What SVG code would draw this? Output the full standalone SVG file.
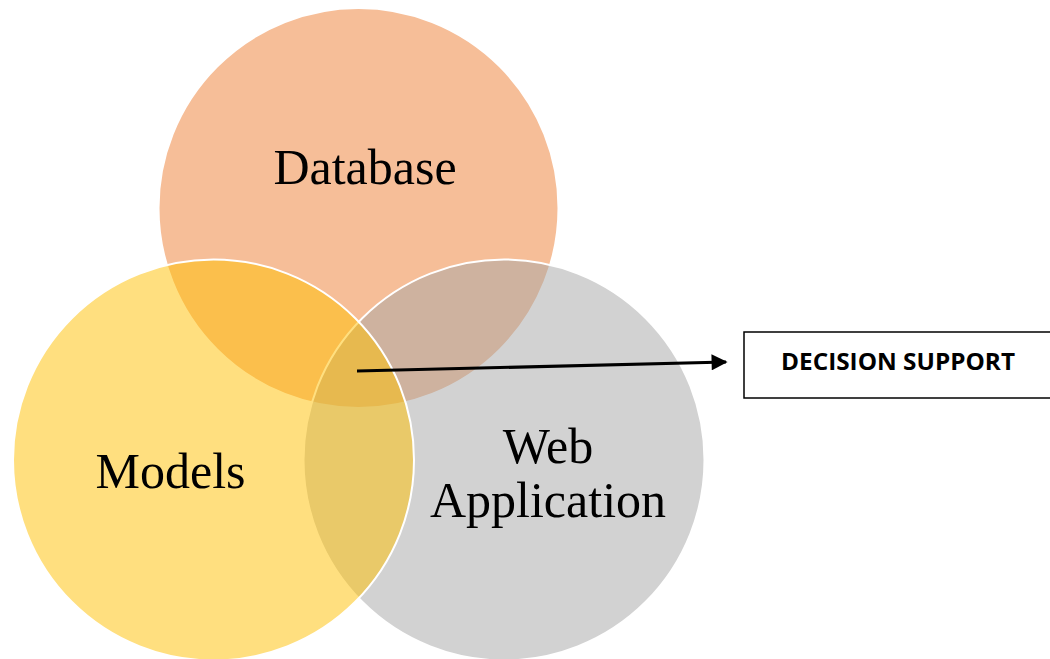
<svg xmlns="http://www.w3.org/2000/svg" width="1050" height="659" viewBox="0 0 1050 659">
  <style>
    .set { fill-opacity: 0.5; stroke: #FFFFFF; stroke-width: 2; }
    .set-label { font-family: "Liberation Serif", "Times New Roman", serif; font-size: 50px; fill: #000000; text-anchor: middle; }
    .box { fill: #FFFFFF; stroke: #000000; stroke-width: 1.5; }
    .box-label { font-family: "Open Sans", "Liberation Sans", sans-serif; font-weight: bold; font-size: 23px; fill: #000000; }
    .link { stroke: #000000; stroke-width: 3.2; fill: none; }
  </style>
  <defs>
    <marker id="arrow" viewBox="0 0 10 10" refX="9" refY="5" markerWidth="5.5" markerHeight="5" orient="auto" markerUnits="strokeWidth">
      <path d="M0,0 L10,5 L0,10 Z" fill="#000000"/>
    </marker>
  </defs>
  <rect width="1050" height="659" fill="#FFFFFF"/>

  <!-- Venn sets, drawn back to front -->
  <g id="database">
    <circle class="set" cx="358.5" cy="208" r="200" fill="#ED7D31"/>
    <text class="set-label" x="365" y="184">Database</text>
  </g>
  <g id="web-application">
    <circle class="set" cx="504" cy="460" r="200.5" fill="#A5A5A5"/>
    <text class="set-label" x="548" y="463">Web</text>
    <text class="set-label" x="548" y="517">Application</text>
  </g>
  <g id="models">
    <circle class="set" cx="213.5" cy="460" r="200.5" fill="#FFC000"/>
    <text class="set-label" x="170.5" y="488">Models</text>
  </g>

  <g id="decision-support">
    <rect class="box" x="744" y="332" width="320" height="66"/>
    <text class="box-label" x="781" y="369.5" textLength="234" lengthAdjust="spacingAndGlyphs">DECISION SUPPORT</text>
  </g>

  <g id="connectors">
    <line class="link" x1="357" y1="371" x2="726" y2="362" marker-end="url(#arrow)"/>
  </g>
</svg>
